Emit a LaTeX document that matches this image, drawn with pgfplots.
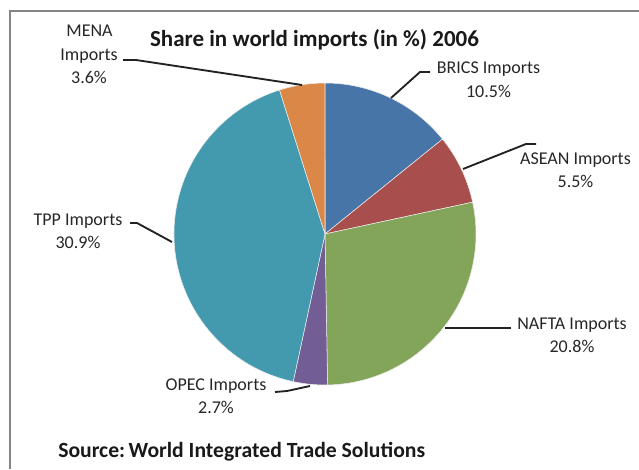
\documentclass[border=0pt]{standalone}
\usepackage{pgfplots}
\pgfplotsset{compat=1.18}
\usepackage{pgfplotstable}
\usepackage{fontspec}
\setmainfont{Carlito}

\definecolor{cBRICS}{HTML}{4875A8}
\definecolor{cASEAN}{HTML}{A84E4C}
\definecolor{cNAFTA}{HTML}{82A55A}
\definecolor{cOPEC}{HTML}{725E95}
\definecolor{cTPP}{HTML}{4399AE}
\definecolor{cMENA}{HTML}{DA8748}
\definecolor{leader}{HTML}{222222}
\definecolor{frame}{HTML}{858585}

% share in world imports (in %), 2006
\pgfplotstableread{
name  value color
BRICS 10.5  cBRICS
ASEAN 5.5   cASEAN
NAFTA 20.8  cNAFTA
OPEC  2.7   cOPEC
TPP   30.9  cTPP
MENA  3.6   cMENA
}\sharedata

\newcommand{\lbl}[5]{% x, baseline1, baseline2, line1, line2
  \node[anchor=base, inner sep=0pt, font=\fontsize{13.5pt}{16pt}\selectfont, text=black!85] at (axis cs:#1,#2) {#4};
  \node[anchor=base, inner sep=0pt, font=\fontsize{13.5pt}{16pt}\selectfont, text=black!85] at (axis cs:#1,#3) {#5};
}

\begin{document}
\begin{tikzpicture}
\begin{axis}[
    x=0.75pt, y=0.75pt,
    xmin=0, xmax=639, ymin=0, ymax=469,
    enlargelimits=false,
    hide axis,
    clip=false,
]
% frame (cut at right and bottom)
\draw[frame, line width=1.8pt] (axis cs:10,0) -- (axis cs:10,458) -- (axis cs:639,458);

% pie slices, clockwise from 12 o'clock
\pgfplotstablegetrowsof{\sharedata}
\pgfmathtruncatemacro\lastrow{\pgfplotsretval-1}
\def\total{0}
\pgfplotsforeachungrouped \i in {0,...,\lastrow}{%
  \pgfplotstablegetelem{\i}{value}\of\sharedata
  \pgfmathsetmacro\total{\total+\pgfplotsretval}
}
\def\angA{90}
\pgfplotsforeachungrouped \i in {0,...,\lastrow}{%
  \pgfplotstablegetelem{\i}{value}\of\sharedata \let\v\pgfplotsretval
  \pgfplotstablegetelem{\i}{color}\of\sharedata \let\c\pgfplotsretval
  \pgfmathsetmacro\angB{\angA-\v/\total*360}
  \edef\temp{\noexpand\fill[\c, draw=white!85!gray, line width=0.4pt]
    (axis cs:325,235) -- ++(\angA:113.25pt)
    arc[start angle=\angA, end angle=\angB, radius=113.25pt] -- cycle;}
  \temp
  \global\let\angA\angB
}

% leader lines
\draw[leader, line width=1.4pt] (axis cs:123,409) -- (axis cs:136,409) -- (axis cs:302,384);
\draw[leader, line width=1.4pt] (axis cs:430,397) -- (axis cs:420,397) -- (axis cs:391,371);
\draw[leader, line width=1.4pt] (axis cs:536,325) -- (axis cs:526,325) -- (axis cs:463,300);
\draw[leader, line width=1.4pt] (axis cs:511,141) -- (axis cs:445,141);
\draw[leader, line width=1.4pt] (axis cs:130,246) -- (axis cs:137,246) -- (axis cs:172,227);
\draw[leader, line width=1.4pt] (axis cs:275,77) -- (axis cs:287,78) -- (axis cs:310,83);

% data labels
\node[anchor=base, inner sep=0pt, font=\fontsize{13.5pt}{16pt}\selectfont, text=black!85] at (axis cs:89.5,432) {MENA};
\lbl{89}{408}{386}{Imports}{3.6\%}
\lbl{488.5}{396}{372}{BRICS Imports}{10.5\%}
\lbl{575.5}{305}{282}{ASEAN Imports}{5.5\%}
\lbl{572}{140}{117}{NAFTA Imports}{20.8\%}
\lbl{78}{244}{221}{TPP Imports}{30.9\%}
\lbl{216}{79}{56}{OPEC Imports}{2.7\%}

% title and source
\node[anchor=base, inner sep=0pt, font=\fontsize{17.25pt}{20pt}\selectfont\bfseries, text=black!90] at (axis cs:314.5,422) {Share in world imports (in \%) 2006};
\node[anchor=base west, inner sep=0pt, font=\fontsize{16.25pt}{19pt}\selectfont\bfseries, text=black!90] at (axis cs:58,12) {Source:\,World Integrated Trade Solutions};
\end{axis}
\pgfresetboundingbox
\path (current axis.south west) rectangle (current axis.north east);
\end{tikzpicture}
\end{document}
